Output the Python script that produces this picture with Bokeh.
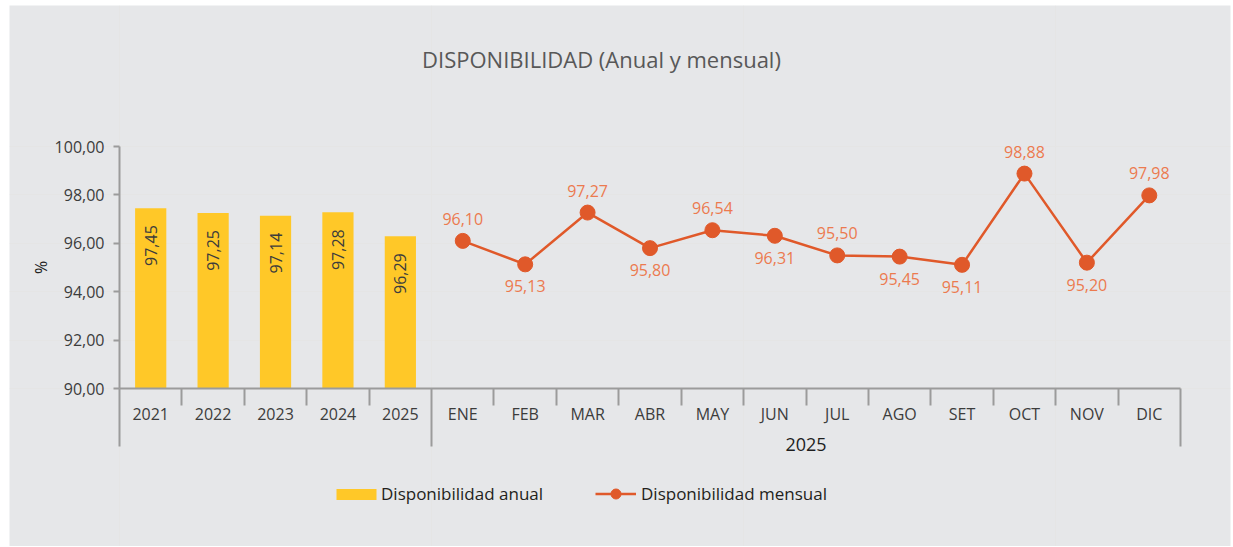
import math
from bokeh.plotting import figure
from bokeh.models import (Range1d, LinearAxis, FixedTicker, Label, Legend,
                          LegendItem, ColumnDataSource)
from bokeh.embed import file_html
from bokeh.resources import INLINE
from bokeh.core.properties import value

# ---------------- data ----------------
years = ["2021", "2022", "2023", "2024", "2025"]
annual = [97.45, 97.25, 97.14, 97.28, 96.29]
months = ["ENE", "FEB", "MAR", "ABR", "MAY", "JUN", "JUL", "AGO", "SET", "OCT", "NOV", "DIC"]
monthly = [96.10, 95.13, 97.27, 95.80, 96.54, 96.31, 95.50, 95.45, 95.11, 98.88, 95.20, 97.98]
month_group = "2025"
y_ticks = [90, 92, 94, 96, 98, 100]
y_tick_labels = ["90,00", "92,00", "94,00", "96,00", "98,00", "100,00"]
title_text = "DISPONIBILIDAD (Anual y mensual)"
legend_annual = "Disponibilidad anual"
legend_monthly = "Disponibilidad mensual"

# ---------------- style ----------------
FONT = "Open Sans"
BG = "#E6E7E9"
AXIS = "#9B9B9B"
BAR = "#FFC828"
LINE = "#E0592A"
LBL = "#EC7A4F"
TXT = "#3C3C3C"
label_side = [1, -1, 1, -1, 1, -1, 1, -1, -1, 1, -1, 1]  # 1 above, -1 below

CW, CH = 1232, 546          # canvas
ML, MT, MR = 9, 5, 2        # white margins around the grey panel
FW, FH = CW - ML - MR, CH - MT  # frame (grey panel) size
X0, XN = 110, 1171          # frame px of category boundaries 0 and n
Y90, Y100 = 383, 141        # frame px (from top) of 90 and 100

n = len(years) + len(months)
sx = (XN - X0) / n
sy = (Y90 - Y100) / (y_ticks[-1] - y_ticks[0])
x_range = Range1d(-X0 / sx, n + (FW - XN) / sx)
y_range = Range1d(y_ticks[0] - (FH - Y90) / sy, y_ticks[-1] + Y100 / sy)

p = figure(width=CW, height=CH, x_range=x_range, y_range=y_range,
           output_backend="svg", toolbar_location=None,
           x_axis_location=None, y_axis_location=None,
           min_border_left=ML, min_border_top=MT, min_border_right=MR,
           min_border_bottom=0)
p.background_fill_color = BG
p.border_fill_color = "white"
p.outline_line_color = None

def fmt(v):
    return f"{v:.2f}".replace(".", ",")

# ---- bars ----
bar_x = [i + 0.5 for i in range(len(years))]
bsrc = ColumnDataSource(dict(x=bar_x, top=annual, lab=[fmt(v) for v in annual]))
bars = p.vbar(x="x", top="top", bottom=y_ticks[0], width=0.5, source=bsrc,
              fill_color=BAR, line_color=None)
p.text(x="x", y="top", text="lab", source=bsrc, angle=math.pi / 2,
       text_align="right", text_baseline="middle", y_offset=17,
       text_font=value(FONT), text_font_size="16px", text_color=TXT)

# ---- line ----
line_x = [len(years) + i + 0.5 for i in range(len(months))]
lsrc = ColumnDataSource(dict(x=line_x, y=monthly, lab=[fmt(v) for v in monthly],
                             yoff=[-22 * s for s in label_side]))
ln = p.line(x="x", y="y", source=lsrc, line_color=LINE, line_width=2.5)
mk = p.scatter(x="x", y="y", source=lsrc, size=15, fill_color=LINE, line_color=LINE)
p.text(x="x", y="y", text="lab", source=lsrc, y_offset="yoff",
       text_align="center", text_baseline="middle",
       text_font=value(FONT), text_font_size="16px", text_color=LBL)

# ---- y axis ----
yax = LinearAxis(fixed_location=0, bounds=(y_ticks[0], y_ticks[-1]),
                 ticker=FixedTicker(ticks=y_ticks),
                 major_label_overrides={t: l for t, l in zip(y_ticks, y_tick_labels)})
yax.axis_line_color = AXIS
yax.axis_line_width = 2
yax.major_tick_line_color = AXIS
yax.major_tick_line_width = 2
yax.major_tick_out = 6
yax.major_tick_in = 0
yax.minor_tick_line_color = None
yax.major_label_standoff = 9
yax.major_label_text_font = FONT
yax.major_label_text_font_size = "16px"
yax.major_label_text_color = TXT
yax.axis_label = "%"
yax.axis_label_text_font = FONT
yax.axis_label_text_font_size = "16px"
yax.axis_label_text_font_style = "normal"
yax.axis_label_text_color = "#222222"
yax.axis_label_standoff = 0
p.add_layout(yax, "left")

# ---- x axis: category labels ----
cats = years + months
centers = [i + 0.5 for i in range(n)]
xax = LinearAxis(fixed_location=y_ticks[0], bounds=(0, n),
                 ticker=FixedTicker(ticks=centers),
                 major_label_overrides={c: l for c, l in zip(centers, cats)})
xax.axis_line_color = AXIS
xax.axis_line_width = 2
xax.major_tick_line_color = None
xax.major_tick_out = 0
xax.major_tick_in = 0
xax.minor_tick_line_color = None
xax.minor_tick_out = 0
xax.major_label_standoff = 14
xax.major_label_text_font = FONT
xax.major_label_text_font_size = "16px"
xax.major_label_text_color = TXT
p.add_layout(xax, "below")

# ---- separators: long (major) and short (minor) ----
long_sep = [0, len(years), n]
short_sep = [i for i in range(1, n) if i != len(years)]
lax = LinearAxis(fixed_location=y_ticks[0],
                 ticker=FixedTicker(ticks=long_sep, minor_ticks=short_sep),
                 major_label_overrides={t: "" for t in long_sep})
lax.axis_line_color = None
lax.major_tick_line_color = AXIS
lax.major_tick_line_width = 2
lax.major_tick_out = 58
lax.major_tick_in = 0
lax.minor_tick_line_color = AXIS
lax.minor_tick_line_width = 2
lax.minor_tick_out = 17
lax.minor_tick_in = 0
p.add_layout(lax, "below")

# ---- group label ----
gc = (len(years) + n) / 2
gax = LinearAxis(fixed_location=y_ticks[0], ticker=FixedTicker(ticks=[gc]),
                 major_label_overrides={gc: month_group})
gax.axis_line_color = None
gax.major_tick_line_color = None
gax.minor_tick_line_color = None
gax.major_tick_out = 0
gax.minor_tick_out = 0
gax.major_label_standoff = 49
gax.major_label_text_font = FONT
gax.major_label_text_font_size = "18px"
gax.major_label_text_color = "#1E1E1E"
p.add_layout(gax, "below")

# ---- title ----
p.add_layout(Label(x=592, y=CH - 58, x_units="screen", y_units="screen",
                   text=title_text, text_align="center", text_baseline="middle",
                   text_font=FONT, text_font_size="22px", text_color="#585858"))

# ---- legends ----
def mk_legend(items, x, y, gw, gh, standoff):
    lg = Legend(items=items, location=(x, y), orientation="horizontal",
                glyph_width=gw, glyph_height=gh, label_standoff=standoff,
                padding=0, margin=0, spacing=0,
                border_line_color=None, background_fill_alpha=0,
                label_text_font=FONT, label_text_font_size="17px",
                label_text_color="#231F20")
    p.add_layout(lg)

mk_legend([LegendItem(label=legend_annual, renderers=[bars])], 322, 41, 50, 14, 0)
mk_legend([LegendItem(label=legend_monthly, renderers=[ln, mk])], 586, 40, 41, 25, 5)

open("out.html", "w").write(file_html(p, INLINE))
